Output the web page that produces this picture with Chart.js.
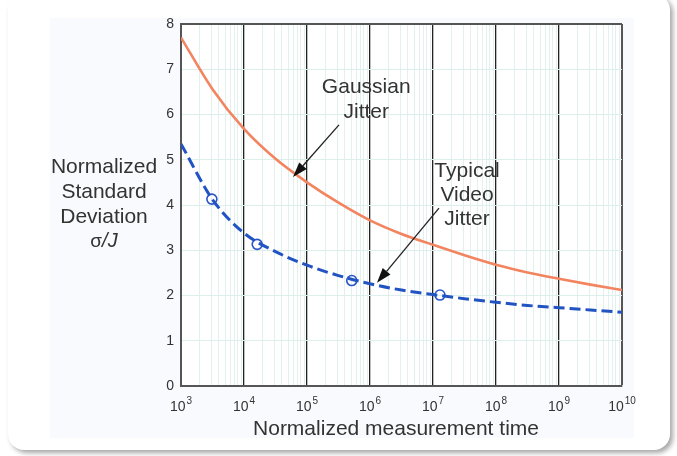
<!DOCTYPE html>
<html>
<head>
<meta charset="utf-8">
<script src="https://cdn.jsdelivr.net/npm/chart.js@4.4.1/dist/chart.umd.min.js"></script>
<style>
  html, body { margin: 0; padding: 0; background: #fff; }
  #wrap { position: relative; width: 677px; height: 456px; overflow: hidden; }
  .card { position: absolute; left: 8px; top: -6px; width: 662px; height: 456px; background: #fff;
          border-radius: 16px; box-shadow: 3px 3px 5px rgba(0,0,0,0.35); }
  .panel { position: absolute; left: 50px; top: 18px; width: 584px; height: 420px; background: #f9fafd; }
  canvas { position: absolute; left: 0; top: 0; }
</style>
</head>
<body>
<div id="wrap">
  <div class="card"></div>
  <div class="panel"></div>
  <canvas id="chart" width="677" height="456"></canvas>
</div>
<script>
  // values
  const decades = [3, 4, 5, 6, 7, 8, 9, 10];
  const yTicks = [0, 1, 2, 3, 4, 5, 6, 7, 8];
  const curveTimes = [1e3, 3162, 1e4, 31623, 1e5, 316228, 1e6, 3162278, 1e7, 31622777, 1e8, 316227766, 1e9, 3162277660, 1e10];
  const gaussianJitter = [7.70, 6.56, 5.68, 5.02, 4.50, 4.05, 3.66, 3.36, 3.12, 2.89, 2.68, 2.51, 2.37, 2.24, 2.12];
  const videoJitter = [5.35, 4.12, 3.38, 2.97, 2.67, 2.44, 2.26, 2.12, 2.02, 1.93, 1.85, 1.78, 1.73, 1.68, 1.63];
  const markerTimes = [3090, 16200, 513000, 12900000];
  const markerValues = [4.13, 3.13, 2.33, 2.01];

  const FONT = "Arial, 'Liberation Sans', sans-serif";
  const TEXT = "#333";

  const toPoints = (xs, ys) => xs.map((x, i) => ({ x, y: ys[i] }));
  const isDecade = v => Math.abs(Math.log10(v) - Math.round(Math.log10(v))) < 1e-9;
  const lastDecade = Math.pow(10, decades[decades.length - 1]);

  // every 1..9 x 10^n between the first and last decade
  function logTicks() {
    const out = [];
    for (let e = decades[0]; e < decades[decades.length - 1]; e++) {
      for (let s = 1; s < 10; s++) out.push({ value: s * Math.pow(10, e) });
    }
    out.push({ value: lastDecade });
    return out;
  }

  function arrow(ctx, x1, y1, x2, y2) {
    const a = Math.atan2(y2 - y1, x2 - x1);
    const len = 15, half = 5;
    const bx = x2 - len * Math.cos(a), by = y2 - len * Math.sin(a);
    ctx.beginPath();
    ctx.moveTo(x1, y1);
    ctx.lineTo(bx, by);
    ctx.strokeStyle = "#222";
    ctx.lineWidth = 1.3;
    ctx.stroke();
    ctx.beginPath();
    ctx.moveTo(x2, y2);
    ctx.lineTo(bx + half * Math.sin(a), by - half * Math.cos(a));
    ctx.lineTo(bx - half * Math.sin(a), by + half * Math.cos(a));
    ctx.closePath();
    ctx.fillStyle = "#111";
    ctx.fill();
  }

  const decorations = {
    id: "decorations",
    beforeDraw(chart) {
      const { ctx, chartArea: a } = chart;
      ctx.save();
      ctx.fillStyle = "#fff";
      ctx.fillRect(a.left, a.top, a.right - a.left, a.bottom - a.top);
      ctx.restore();
    },
    afterDraw(chart) {
      const { ctx } = chart;
      const xs = chart.scales.x, ys = chart.scales.y;
      const px = v => xs.getPixelForValue(v), py = v => ys.getPixelForValue(v);
      ctx.save();
      ctx.fillStyle = TEXT;

      // x tick labels: 10 with superscript exponent
      decades.forEach(e => {
        const x = px(Math.pow(10, e));
        ctx.font = "14px " + FONT;
        const wBase = ctx.measureText("10").width;
        ctx.font = "10px " + FONT;
        const wExp = ctx.measureText(String(e)).width;
        const left = x - (wBase + wExp + 1) / 2;
        ctx.textAlign = "left";
        ctx.textBaseline = "alphabetic";
        ctx.font = "14px " + FONT;
        ctx.fillText("10", left, 411);
        ctx.font = "10px " + FONT;
        ctx.fillText(String(e), left + wBase + 1, 404);
      });

      // axis titles
      ctx.font = "21px " + FONT;
      ctx.textAlign = "center";
      ctx.fillText("Normalized measurement time", 396, 435);
      ["Normalized", "Standard", "Deviation"].forEach((t, i) => ctx.fillText(t, 104, 173 + i * 25));
      ctx.font = "19px " + FONT;
      const wSig = ctx.measureText("σ").width;
      ctx.font = "italic 20px " + FONT;
      const wJ = ctx.measureText("/J").width;
      const sx = 104 - (wSig + wJ) / 2;
      ctx.textAlign = "left";
      ctx.font = "19px " + FONT;
      ctx.fillText("σ", sx, 247);
      ctx.font = "italic 20px " + FONT;
      ctx.fillText("/J", sx + wSig, 247);

      // annotations
      ctx.font = "21px " + FONT;
      ctx.textAlign = "center";
      const gx = px(871000);
      ctx.fillText("Gaussian", gx, py(6.475));
      ctx.fillText("Jitter", gx, py(5.92));
      const vx = px(34700000);
      ctx.fillText("Typical", vx, py(4.625));
      ctx.fillText("Video", vx, py(4.095));
      ctx.fillText("Jitter", vx, py(3.56));

      arrow(ctx, px(322000), py(5.77), px(60000), py(4.62));
      arrow(ctx, px(12450000), py(3.93), px(1291000), py(2.28));
      ctx.restore();
    }
  };

  new Chart(document.getElementById("chart"), {
    type: "line",
    data: {
      datasets: [
        {
          label: "Gaussian Jitter",
          data: toPoints(curveTimes, gaussianJitter),
          borderColor: "#f2845f",
          borderWidth: 2.6,
          pointRadius: 0,
          cubicInterpolationMode: "monotone"
        },
        {
          label: "Typical Video Jitter",
          data: toPoints(curveTimes, videoJitter),
          borderColor: "#2253c2",
          borderWidth: 3,
          borderDash: [11, 5],
          pointRadius: 0,
          cubicInterpolationMode: "monotone"
        },
        {
          label: "Measured",
          data: toPoints(markerTimes, markerValues),
          showLine: false,
          pointRadius: 5,
          pointBorderWidth: 1.6,
          pointBorderColor: "#2a55c8",
          pointBackgroundColor: "rgba(255,255,255,0)"
        }
      ]
    },
    options: {
      responsive: false,
      animation: false,
      devicePixelRatio: 1,
      layout: { padding: { top: 24, right: 55, left: 0, bottom: 0 } },
      plugins: { legend: { display: false }, tooltip: { enabled: false } },
      scales: {
        x: {
          type: "logarithmic",
          min: Math.pow(10, decades[0]),
          max: lastDecade,
          afterBuildTicks: scale => { scale.ticks = logTicks(); },
          afterFit: scale => { scale.height = 70; },
          ticks: { display: false, autoSkip: false },
          border: { display: true, color: "#555", width: 2 },
          grid: {
            drawTicks: false,
            color: c => {
              const v = c.tick.value;
              if (v >= lastDecade) return "#555";
              return isDecade(v) ? "#222" : "#e2f1ed";
            },
            lineWidth: c => {
              const v = c.tick.value;
              if (v >= lastDecade) return 2;
              return isDecade(v) ? 1.3 : 1;
            }
          }
        },
        y: {
          min: yTicks[0],
          max: yTicks[yTicks.length - 1],
          afterBuildTicks: scale => { scale.ticks = yTicks.map(v => ({ value: v })); },
          afterFit: scale => { scale.width = 181; },
          ticks: { color: TEXT, font: { family: FONT, size: 14 }, padding: 7 },
          border: { display: true, color: "#555", width: 2 },
          grid: {
            drawTicks: false,
            color: c => c.tick.value === yTicks[yTicks.length - 1] ? "#555" : "#dcefea",
            lineWidth: c => c.tick.value === yTicks[yTicks.length - 1] ? 2 : 1
          }
        }
      }
    },
    plugins: [decorations]
  });
</script>
</body>
</html>
